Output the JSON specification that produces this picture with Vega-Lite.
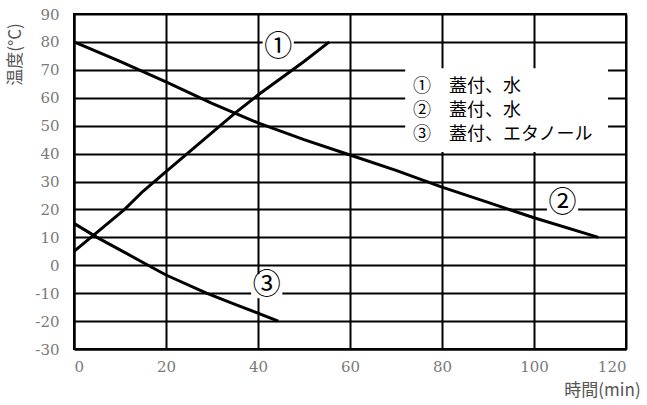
{
  "$schema": "https://vega.github.io/schema/vega-lite/v6.json",
  "width": 552,
  "height": 335,
  "autosize": {"type": "none"},
  "padding": {"left": 74, "top": 14, "right": 21, "bottom": 56},
  "background": "white",
  "config": {
    "view": {"stroke": "black", "strokeWidth": 2}
  },
  "encoding": {
    "x": {"field": "t", "type": "quantitative",
          "scale": {"domain": [0, 120], "nice": false, "zero": false},
          "axis": {"values": [0, 20, 40, 60, 80, 100, 120], "labelPadding": 10,
                   "labelExpr": "toString(datum.value)", "labelOverlap": false,
                   "labelFont": "DejaVu Serif", "labelFontSize": 15, "labelColor": "#7a7a7a",
                   "gridColor": "black", "gridWidth": 2, "gridOpacity": 1,
                   "domainColor": "black", "domainWidth": 2, "ticks": false,
                   "titleFont": "Noto Sans CJK JP", "titleFontWeight": "normal", "titleFontSize": 17, "titleColor": "#555555",
                   "title": "時間(min)", "titleX": 528, "titleY": 41, "titleBaseline": "middle", "titleAlign": "center"}},
    "y": {"field": "temp", "type": "quantitative",
          "scale": {"domain": [-30, 90], "nice": false, "zero": false},
          "axis": {"values": [-30, -20, -10, 0, 10, 20, 30, 40, 50, 60, 70, 80, 90], "labelPadding": 15,
                   "labelExpr": "toString(datum.value)", "labelOverlap": false,
                   "labelFont": "DejaVu Serif", "labelFontSize": 15, "labelColor": "#7a7a7a",
                   "gridColor": "black", "gridWidth": 2, "gridOpacity": 1,
                   "domainColor": "black", "domainWidth": 2, "ticks": false,
                   "titleFont": "Noto Sans CJK JP", "titleFontWeight": "normal", "titleFontSize": 17, "titleColor": "#555555",
                   "title": "温度(°C)", "titleX": -59, "titleY": 40, "titleAngle": -90, "titleAlign": "center", "titleBaseline": "middle"}}
  },
  "layer": [
    {
      "data": {"values": [
        {"series": "1", "t": 0, "temp": 5},
        {"series": "1", "t": 5, "temp": 11.8},
        {"series": "1", "t": 11, "temp": 20},
        {"series": "1", "t": 15, "temp": 26.5},
        {"series": "1", "t": 20, "temp": 33.5},
        {"series": "1", "t": 25, "temp": 40.5},
        {"series": "1", "t": 30, "temp": 47.5},
        {"series": "1", "t": 35, "temp": 54.5},
        {"series": "1", "t": 40, "temp": 61},
        {"series": "1", "t": 45, "temp": 67},
        {"series": "1", "t": 50, "temp": 73},
        {"series": "1", "t": 55.5, "temp": 80},
        {"series": "2", "t": 0, "temp": 80},
        {"series": "2", "t": 10, "temp": 73},
        {"series": "2", "t": 20, "temp": 65.7},
        {"series": "2", "t": 30, "temp": 58},
        {"series": "2", "t": 40, "temp": 51},
        {"series": "2", "t": 50, "temp": 45},
        {"series": "2", "t": 60, "temp": 39.5},
        {"series": "2", "t": 70, "temp": 34},
        {"series": "2", "t": 80, "temp": 28},
        {"series": "2", "t": 90, "temp": 22.5},
        {"series": "2", "t": 100, "temp": 17},
        {"series": "2", "t": 114, "temp": 10},
        {"series": "3", "t": 0, "temp": 15},
        {"series": "3", "t": 5, "temp": 10},
        {"series": "3", "t": 10, "temp": 5.5},
        {"series": "3", "t": 15, "temp": 1},
        {"series": "3", "t": 20, "temp": -3.5},
        {"series": "3", "t": 28.8, "temp": -10},
        {"series": "3", "t": 35, "temp": -14},
        {"series": "3", "t": 44.4, "temp": -20}
      ]},
      "mark": {"type": "line", "color": "black", "strokeWidth": 3},
      "encoding": {
        "detail": {"field": "series"}
      }
    },
    {
      "data": {"values": [{"t": 72, "t2": 116.1, "temp": 70.6, "temp2": 40.6}]},
      "mark": {"type": "rect", "color": "white", "opacity": 1},
      "encoding": {
        "x2": {"field": "t2"},
        "y2": {"field": "temp2"}
      }
    },
    {
      "data": {"values": [
        {"label": "①", "t": 44.4, "temp": 77.7},
        {"label": "②", "t": 106.2, "temp": 22.1},
        {"label": "③", "t": 41.9, "temp": -7.5}
      ]},
      "layer": [
        {
          "mark": {"type": "point", "shape": "M-1.3,-1H1.3V1H-1.3Z", "filled": true, "color": "white", "opacity": 1, "size": 576, "strokeWidth": 0}
        },
        {
          "mark": {"type": "text", "font": "Noto Sans CJK JP", "fontSize": 28, "color": "black", "align": "center", "baseline": "middle"},
          "encoding": {
            "text": {"field": "label"}
          }
        }
      ]
    },
    {
      "data": {"values": [
        {"row": "①　蓋付、水", "t": 73.7, "temp": 63.8},
        {"row": "②　蓋付、水", "t": 73.7, "temp": 55.4},
        {"row": "③　蓋付、エタノール", "t": 73.7, "temp": 46.6}
      ]},
      "mark": {"type": "text", "font": "Noto Sans CJK JP", "fontSize": 18, "color": "black", "align": "left", "baseline": "middle"},
      "encoding": {
        "text": {"field": "row"}
      }
    }
  ]
}
